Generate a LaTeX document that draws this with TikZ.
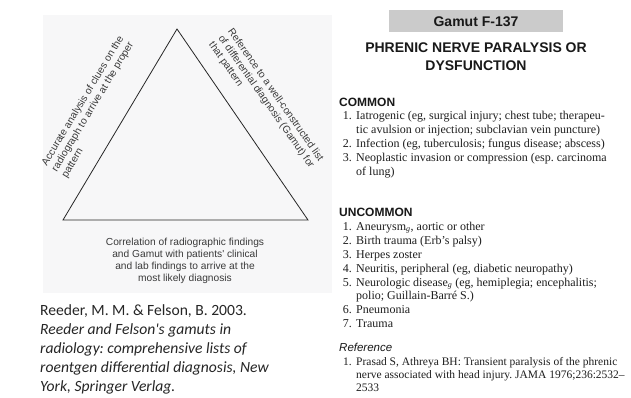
\documentclass[tikz,border=0pt]{standalone}
\usepackage{fontspec}
\setmainfont{Liberation Serif}
\newfontfamily\arialf{Liberation Sans}
\newfontfamily\calibf{Carlito}
\frenchspacing
\definecolor{panelbg}{HTML}{F7F7F8}
\definecolor{diagtext}{HTML}{3A3A3A}
\definecolor{gamutbox}{HTML}{CBCBCB}
\definecolor{listtext}{HTML}{1E1E1E}
\tikzset{
  edge/.style={draw=black!85, line width=0.8pt, line join=miter},
  sidenote/.style={font=\arialf\fontsize{10.2}{11.6}\selectfont, text=diagtext, align=left, inner sep=0pt},
  basenote/.style={font=\arialf\fontsize{10.2}{12}\selectfont, text=diagtext, align=center, inner sep=0pt},
  citeline/.style={font=\calibf\fontsize{15.6}{19}\selectfont, text=black!85, anchor=base west, inner sep=0pt},
  citeital/.style={citeline, font=\calibf\itshape\fontsize{15.6}{19}\selectfont},
  heading/.style={font=\arialf\bfseries\fontsize{14}{17}\selectfont, text=black!90, anchor=base, inner sep=0pt},
  section/.style={font=\arialf\bfseries\fontsize{12}{14}\selectfont, text=black!90, anchor=base west, inner sep=0pt},
  num/.style={font=\fontsize{12}{14}\selectfont, text=listtext, anchor=base east, inner sep=0pt},
  itm/.style={font=\fontsize{12}{14}\selectfont, text=listtext, anchor=base west, inner sep=0pt},
  refnum/.style={num, font=\fontsize{11.5}{13}\selectfont},
  refitm/.style={itm, font=\fontsize{11.5}{13}\selectfont},
}
\begin{document}
\begin{tikzpicture}[x=1pt,y=-1pt]
\useasboundingbox (0,0) rectangle (631,397);
\fill[white] (0,0) rectangle (631,397);

% left panel with the triangle
\fill[panelbg] (43,15) rectangle (332,293);
\coordinate (apex) at (177,29);
\coordinate (bl) at (63,220);
\coordinate (br) at (308,220);
\draw[edge] (apex) -- (br) -- (bl) -- cycle;

\node[sidenote, rotate=59] (leftnote) at (93,107)
  {Accurate analysis of clues on the\\radiograph to arrive at the proper\\pattern};
\node[sidenote, rotate=-55] (rightnote) at (266,102)
  {Reference to a well-constructed list\\of differential diagnosis (Gamut) for\\that pattern};
\node[basenote] (bottomnote) at (185,261)
  {Correlation of radiographic findings\\and Gamut with patients' clinical\\and lab findings to arrive at the\\most likely diagnosis};

% citation
\node[citeline] (c1) at (40,315) {Reeder, M. M. \& Felson, B. 2003.};
\node[citeital] (c2) at (40,334) {Reeder and Felson's gamuts in};
\node[citeital] (c3) at (40,353) {radiology: comprehensive lists of};
\node[citeital] (c4) at (40,372) {roentgen differential diagnosis, New};
\node[citeital] (c5) at (40,391) {York, Springer Verlag.};

% gamut page
\fill[gamutbox] (389,10) rectangle (563,32);
\node[heading] (gamut) at (476,26) {Gamut F-137};
\node[heading] (title1) at (476,52) {PHRENIC NERVE PARALYSIS OR};
\node[heading] (title2) at (476,70) {DYSFUNCTION};

\node[section] (common) at (339,106) {COMMON};
\node[num] (n11) at (352,119) {1.};
\node[itm] (i11) at (356,119) {Iatrogenic (eg, surgical injury; chest tube; therapeu-};
\node[itm] (i11b) at (356,133) {tic avulsion or injection; subclavian vein puncture)};
\node[num] (n12) at (352,147) {2.};
\node[itm] (i12) at (356,147) {Infection (eg, tuberculosis; fungus disease; abscess)};
\node[num] (n13) at (352,161) {3.};
\node[itm] (i13) at (356,161) {Neoplastic invasion or compression (esp. carcinoma};
\node[itm] (i13b) at (356,175) {of lung)};

\node[section] (uncommon) at (339,216) {UNCOMMON};
\node[num] (n21) at (352,230) {1.};
\node[itm] (i21) at (356,230) {Aneurysm\textsubscript{\textit{g}}, aortic or other};
\node[num] (n22) at (352,244) {2.};
\node[itm] (i22) at (356,244) {Birth trauma (Erb's palsy)};
\node[num] (n23) at (352,258) {3.};
\node[itm] (i23) at (356,258) {Herpes zoster};
\node[num] (n24) at (352,272) {4.};
\node[itm] (i24) at (356,272) {Neuritis, peripheral (eg, diabetic neuropathy)};
\node[num] (n25) at (352,286) {5.};
\node[itm] (i25) at (356,286) {Neurologic disease\textsubscript{\textit{g}} (eg, hemiplegia; encephalitis;};
\node[itm] (i25b) at (356,299) {polio; Guillain-Barré S.)};
\node[num] (n26) at (352,313) {6.};
\node[itm] (i26) at (356,313) {Pneumonia};
\node[num] (n27) at (352,327) {7.};
\node[itm] (i27) at (356,327) {Trauma};

\node[section, font=\arialf\itshape\fontsize{11.5}{14}\selectfont] (refhead) at (339,351) {Reference};
\node[refnum] (n31) at (352,365) {1.};
\node[refitm] (i31) at (356,365) {Prasad S, Athreya BH: Transient paralysis of the phrenic};
\node[refitm] (i31b) at (356,378) {nerve associated with head injury. JAMA 1976;236:2532–};
\node[refitm] (i31c) at (356,391) {2533};
\end{tikzpicture}
\end{document}
